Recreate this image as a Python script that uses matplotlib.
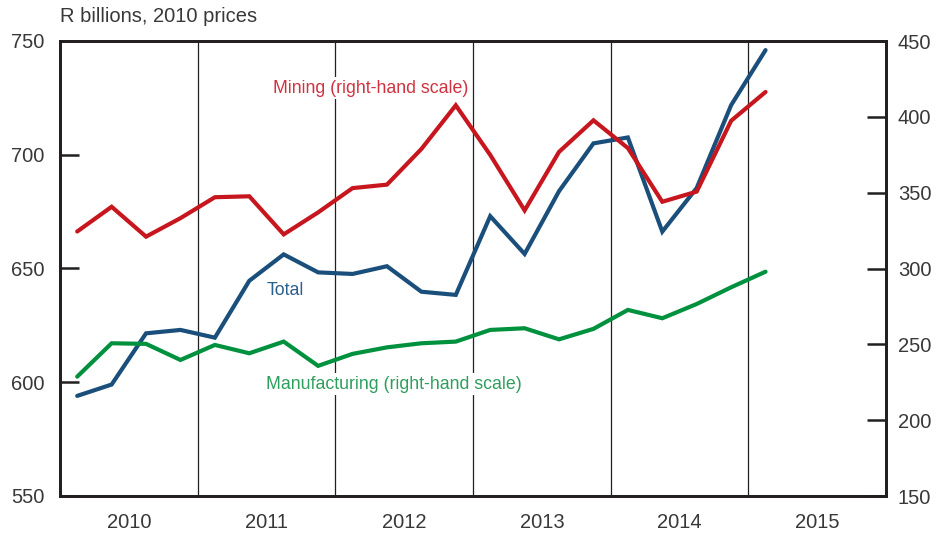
import matplotlib
matplotlib.use("Agg")
import matplotlib.pyplot as plt
import numpy as np

plt.rcParams['font.family'] = ['Liberation Sans', 'DejaVu Sans']

quarters = ["2010Q1","2010Q2","2010Q3","2010Q4","2011Q1","2011Q2","2011Q3","2011Q4",
            "2012Q1","2012Q2","2012Q3","2012Q4","2013Q1","2013Q2","2013Q3","2013Q4",
            "2014Q1","2014Q2","2014Q3","2014Q4","2015Q1"]
total = [594, 599, 621.5, 623, 619.6, 644.6, 656.2, 648.3, 647.6, 651, 639.8, 638.4,
         673, 656.4, 684, 705, 707.6, 666.2, 685.4, 721.8, 746]
mining = [324.4, 340.7, 321, 333.2, 347, 347.6, 322.5, 337, 353, 355.3, 378.8, 407.6,
          374.9, 338.3, 376.9, 397.7, 379.4, 344, 350.7, 397.4, 416.4]
manufacturing = [228.7, 250.7, 250.3, 239.7, 249.6, 244.1, 251.8, 235.8, 243.7, 248,
                 250.7, 251.8, 259.5, 260.6, 253.3, 260.2, 272.7, 267.2, 276.6, 287.6, 297.9]
years = [2010, 2011, 2012, 2013, 2014, 2015]

x = np.array([int(q[:4]) + (int(q[-1]) - 0.5) / 4 for q in quarters])

W, H = 937, 533
fig = plt.figure(figsize=(W/100, H/100), dpi=100)
ax = fig.add_axes([60/W, 1-496/H, (886-60)/W, (496-41)/H])
ax2 = ax.twinx()

c_total = '#1b4f7b'
c_mining = '#c8161e'
c_manu = '#00913f'
txt = '#383838'

for yv in years[1:]:
    ax.axvline(yv, color='#231f20', lw=0.9, zorder=1)

ax.plot(x, total, color=c_total, lw=3.0, solid_capstyle='round', solid_joinstyle='miter', zorder=3)
ax2.plot(x, mining, color=c_mining, lw=3.0, solid_capstyle='round', solid_joinstyle='miter', zorder=3)
ax2.plot(x, manufacturing, color=c_manu, lw=3.0, solid_capstyle='round', solid_joinstyle='miter', zorder=3)

ax.set_xlim(2010, 2016)
ax.set_ylim(550, 750)
ax2.set_ylim(150, 450)

ax.set_xticks([y + 0.5 for y in years])
ax.set_xticklabels([str(y) for y in years])
ax.tick_params(axis='x', length=0, pad=12, labelsize=14.5, labelcolor=txt)

ax.set_yticks([550, 600, 650, 700, 750])
ax.tick_params(axis='y', direction='in', length=14, width=1.8, color='#231f20',
               labelsize=14.5, labelcolor=txt, pad=11)
ax2.set_yticks([150, 200, 250, 300, 350, 400, 450])
ax2.tick_params(axis='y', direction='in', length=14, width=1.8, color='#231f20',
                labelsize=14.5, labelcolor=txt, pad=8.5)

for a in (ax, ax2):
    for s in a.spines.values():
        s.set_linewidth(2.0)
        s.set_color('#231f20')

ax2.set_zorder(ax.get_zorder() + 1)
ax2.patch.set_visible(False)

fig.text(60/W, 1-17/H, "R billions, 2010 prices", ha='left', va='center', fontsize=14.5, color=txt)

bbox = dict(facecolor='white', edgecolor='none', pad=1.5)
ax2.text(2011.55, 419, "Mining (right-hand scale)", color='#d0323f', fontsize=12.8, ha='left', va='center',
         bbox=bbox, zorder=2)
ax.text(2011.5, 640.3, "Total", color='#2b5f8c', fontsize=12.8, ha='left', va='center', zorder=2)
ax2.text(2011.5, 223.8, "Manufacturing (right-hand scale)", color='#2e9e5e', fontsize=12.8, ha='left', va='center',
         bbox=bbox, zorder=2)

fig.savefig("out.png", dpi=100)
